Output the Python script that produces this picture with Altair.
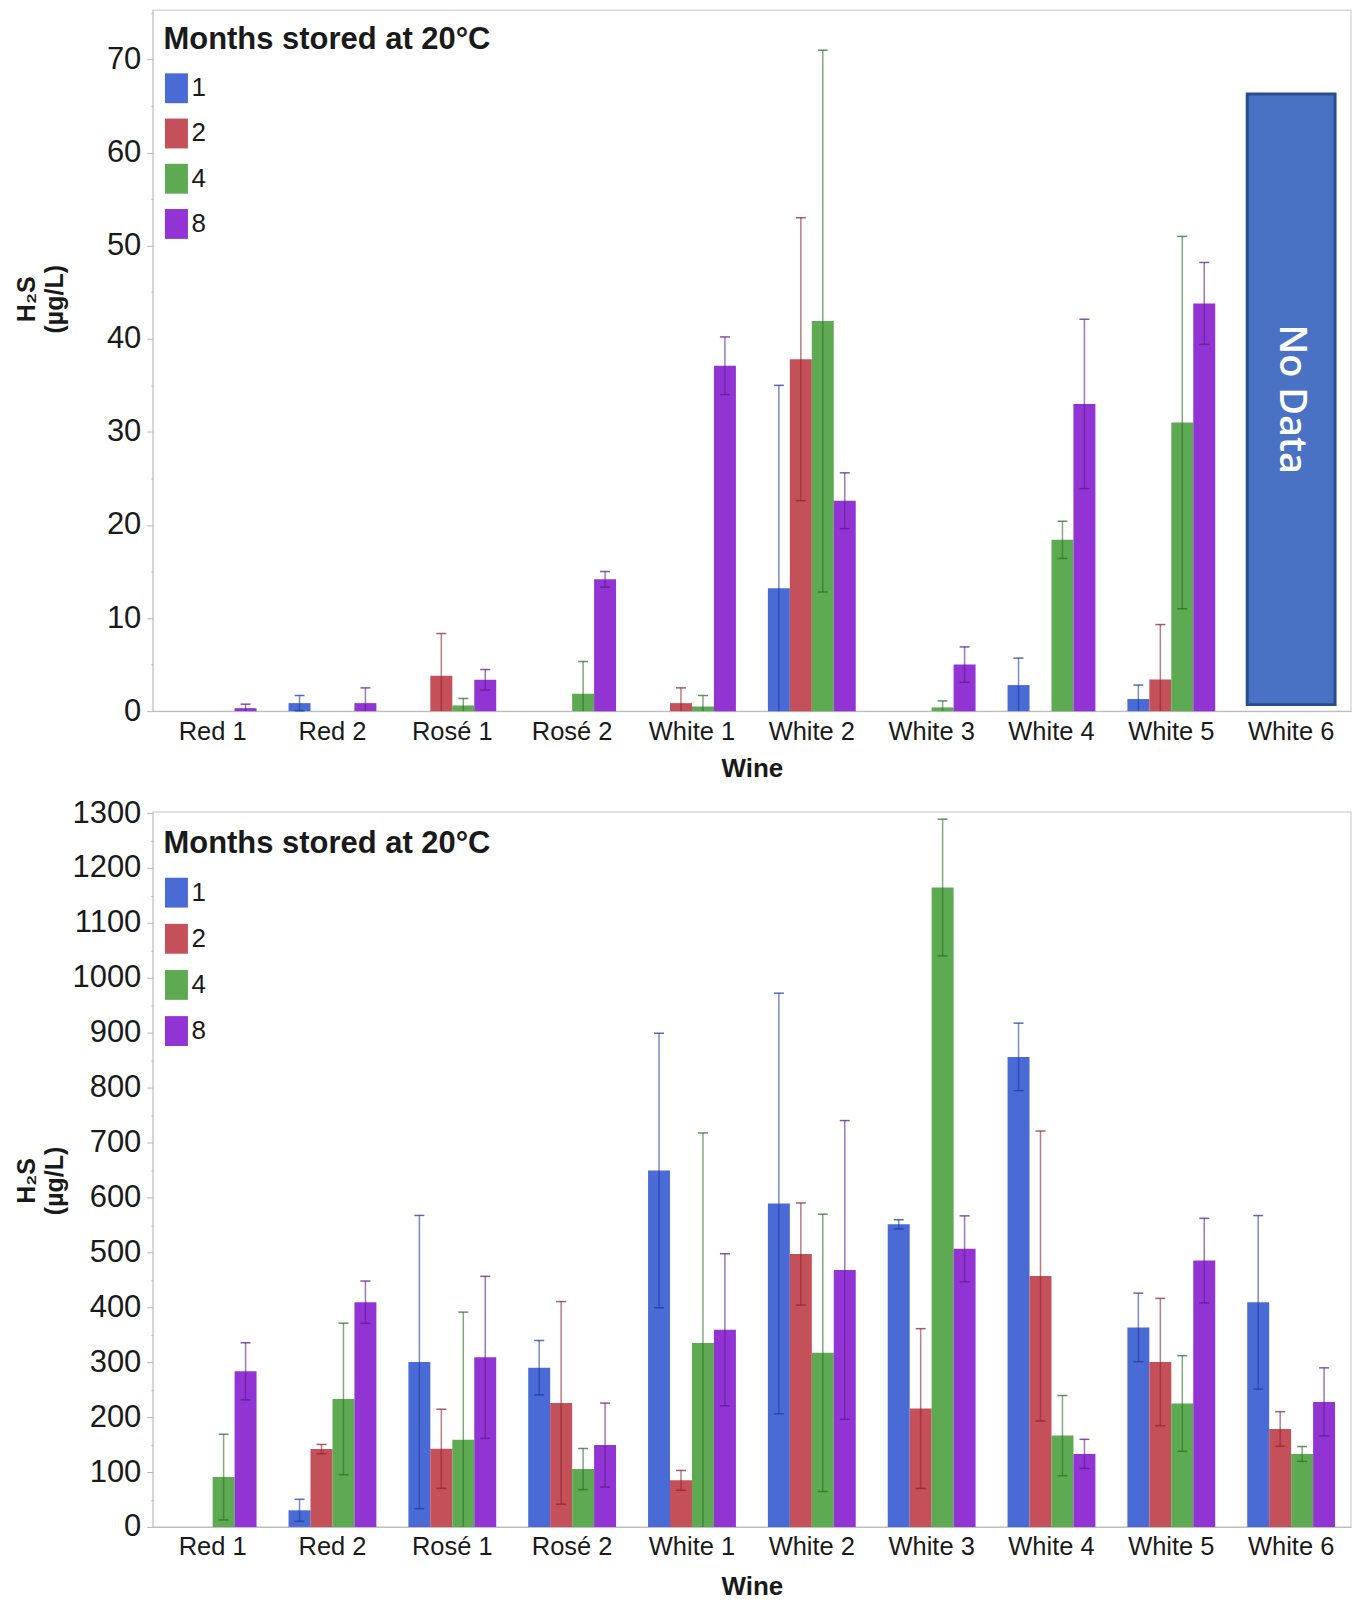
import altair as alt
import pandas as pd

FONT = "Liberation Sans"

wines = ["Red 1", "Red 2", "Rosé 1", "Rosé 2", "White 1", "White 2",
         "White 3", "White 4", "White 5", "White 6"]
months = ["1", "2", "4", "8"]
bar_colors = ["#4A6BD6", "#C4505A", "#5DAA52", "#9234D3"]
err_colors = ["rgba(31,60,158,0.6)", "rgba(142,37,48,0.6)",
              "rgba(47,110,42,0.6)", "rgba(94,26,146,0.6)"]
cap_colors = ["rgba(31,60,158,0.75)", "rgba(142,37,48,0.75)",
              "rgba(47,110,42,0.75)", "rgba(94,26,146,0.75)"]

# ---- top panel: means and error half-widths, per month ----
top_m1 = [None, 0.86, None, None, None, 13.2, None, 2.8, 1.3, None]
top_s1 = [None, 0.82, None, None, None, 21.8, None, 2.9, 1.5, None]
top_m2 = [None, None, 3.8, None, 0.86, 37.8, None, None, 3.4, None]
top_s2 = [None, None, 4.54, None, 1.64, 15.2, None, None, 5.9, None]
top_m4 = [None, None, 0.61, 1.87, 0.5, 41.9, 0.4, 18.4, 31.0, None]
top_s4 = [None, None, 0.75, 3.46, 1.18, 29.1, 0.7, 2.0, 20.0, None]
top_m8 = [0.32, 0.86, 3.37, 14.16, 37.1, 22.6, 5.0, 33.0, 43.8, None]
top_s8 = [0.43, 1.64, 1.1, 0.84, 3.1, 3.0, 1.9, 9.1, 4.4, None]

# ---- bottom panel ----
bot_m1 = [None, 30.3, 300.3, 290, 649, 589, 551, 856, 363.3, 409]
bot_s1 = [None, 20, 267, 49.5, 250, 383, 8.4, 61.5, 62.5, 158]
bot_m2 = [None, 141.7, 142.3, 225.9, 84.8, 497, 215.6, 457, 300.2, 178.4]
bot_s2 = [None, 8.5, 72, 184.5, 18, 93, 145.5, 264, 116, 31.5]
bot_m4 = [90.8, 233.1, 158.6, 105.4, 334.8, 317, 1164.4, 166.3, 224.9, 132.9]
bot_s4 = [78, 138, 232.6, 37.5, 382.7, 252.5, 124.5, 73, 87, 13.5]
bot_m8 = [283.4, 409.3, 308.8, 149, 359, 468, 506.5, 133, 485, 227.7]
bot_s8 = [52, 38.5, 147.5, 76.5, 138.5, 272, 60, 26.5, 77, 62]

# "No Data" box in top panel
nodata_wine = ["White 6"]
nodata_lo = [0.7]
nodata_hi = [66.3]
nodata_text = ["No Data"]


def build(means, sds):
    rows = []
    for mi, m in enumerate(months):
        for w, v, s in zip(wines, means[mi], sds[mi]):
            if v is None:
                continue
            rows.append(dict(wine=w, month=m, value=v,
                             lo=max(0.0, v - s), hi=v + s,
                             errc=err_colors[mi], capc=cap_colors[mi]))
    return pd.DataFrame(rows)


top_df = build([top_m1, top_m2, top_m4, top_m8], [top_s1, top_s2, top_s4, top_s8])
bot_df = build([bot_m1, bot_m2, bot_m4, bot_m8], [bot_s1, bot_s2, bot_s4, bot_s8])

PLOT_W = 1200


def panel(df, ymax, step, major, height, title_y, legend_y, legend_tpad,
          row_pad, xtitle_pad, nodata=None):
    xenc = alt.X("wine:N", sort=wines,
                 scale=alt.Scale(domain=wines, paddingInner=0.267, paddingOuter=0.133),
                 axis=alt.Axis(title="Wine", labelAngle=0, ticks=False,
                               labelFontSize=25.5, labelPadding=8, labelColor="#1a1a1a",
                               domainColor="#bbbbbb", titleFontSize=26,
                               titleFontWeight="bold", titleColor="#1a1a1a",
                               titlePadding=xtitle_pad))
    xoff = alt.XOffset("month:N", sort=months,
                       scale=alt.Scale(domain=months, paddingInner=0, paddingOuter=0))
    yscale = alt.Scale(domain=[0, ymax], nice=False, zero=True)
    vals = list(range(0, int(ymax) + 1, step))
    yaxis = alt.Axis(title=["H₂S", "(µg/L)"], values=vals, format="d",
                     labelExpr=f"datum.value % {major} === 0 ? datum.label : ''",
                     tickSize=6, tickColor="#b5b5b5",
                     tickDash=alt.condition(f"datum.value % {major} !== 0",
                                            alt.value([2, 10]), alt.value([])),
                     domainColor="#d0d0d0", labelFontSize=31, labelPadding=6,
                     labelColor="#1a1a1a", titleFontSize=25, titleFontWeight="bold",
                     titleColor="#1a1a1a", titleLineHeight=28, titleAngle=270,
                     titleX=-113, titleY=title_y, titleAlign="center",
                     titleBaseline="bottom")
    bars = alt.Chart(df).mark_bar(opacity=1).encode(
        x=xenc, xOffset=xoff,
        y=alt.Y("value:Q", scale=yscale, axis=yaxis),
        color=alt.Color("month:N", sort=months,
                        scale=alt.Scale(domain=months, range=bar_colors),
                        legend=alt.Legend(title="Months stored at 20°C", orient="none",
                                          legendX=10.7, legendY=legend_y,
                                          direction="vertical", titleFontSize=31,
                                          titleFontWeight="bold", titleColor="#1a1a1a",
                                          titleLimit=600, titlePadding=legend_tpad,
                                          labelFontSize=26, labelColor="#1a1a1a",
                                          labelOffset=2,
                                          symbolType="M-1,-1.3H1V1.3H-1Z",
                                          symbolSize=529, symbolStrokeWidth=0,
                                          symbolOpacity=1, rowPadding=row_pad,
                                          padding=0)),
    )
    rules = alt.Chart(df).mark_rule(strokeWidth=1.5, opacity=1).encode(
        x=xenc, xOffset=xoff,
        y=alt.Y("lo:Q", scale=yscale, axis=yaxis), y2="hi:Q",
        color=alt.Color("errc:N", scale=None),
    )
    caps_hi = alt.Chart(df).mark_tick(orient="horizontal", size=10,
                                      thickness=1.5, opacity=1).encode(
        x=xenc, xOffset=xoff,
        y=alt.Y("hi:Q", scale=yscale, axis=yaxis),
        color=alt.Color("capc:N", scale=None),
    )
    caps_lo = alt.Chart(df).transform_filter("datum.lo > 0").mark_tick(
        orient="horizontal", size=10, thickness=1.5, opacity=1).encode(
        x=xenc, xOffset=xoff,
        y=alt.Y("lo:Q", scale=yscale, axis=yaxis),
        color=alt.Color("capc:N", scale=None),
    )
    layers = [bars, rules, caps_hi, caps_lo]
    if nodata is not None:
        rect = alt.Chart(nodata).mark_bar(color="#4A72C4", stroke="#2B4C8C",
                                          strokeWidth=3).encode(
            x=xenc, y=alt.Y("lo:Q", scale=yscale, axis=yaxis), y2="hi:Q")
        txt = alt.Chart(nodata).mark_text(angle=90, color="white", font="Open Sans",
                                          fontSize=38, fontWeight=600).encode(
            x=xenc, y=alt.Y("mid:Q", scale=yscale, axis=yaxis), text="label:N")
        layers += [rect, txt]
    return alt.layer(*layers).properties(width=PLOT_W, height=height)


nd = pd.DataFrame({"wine": nodata_wine, "lo": nodata_lo, "hi": nodata_hi,
                   "label": nodata_text})
nd["mid"] = (nd["lo"] + nd["hi"]) / 2

top = panel(top_df, 75.3, 5, 10, 702, 289, 14.5, 19.7, 15.3, 10.8, nodata=nd)
bottom = panel(bot_df, 1302, 50, 100, 716, 369, 17, 19.8, 16.2, 13)

chart = alt.vconcat(top, bottom, spacing=13).resolve_scale(
    color="independent"
).resolve_legend(color="independent").properties(
    padding={"left": 6, "top": 0, "right": 0, "bottom": 0}
).configure_view(stroke="#d9d9d9", strokeWidth=1.5).configure_axis(
    grid=False, labelFont=FONT, titleFont=FONT
).configure_legend(labelFont=FONT, titleFont=FONT)

chart.save("out.html", embed_options={"renderer": "svg", "actions": False})
